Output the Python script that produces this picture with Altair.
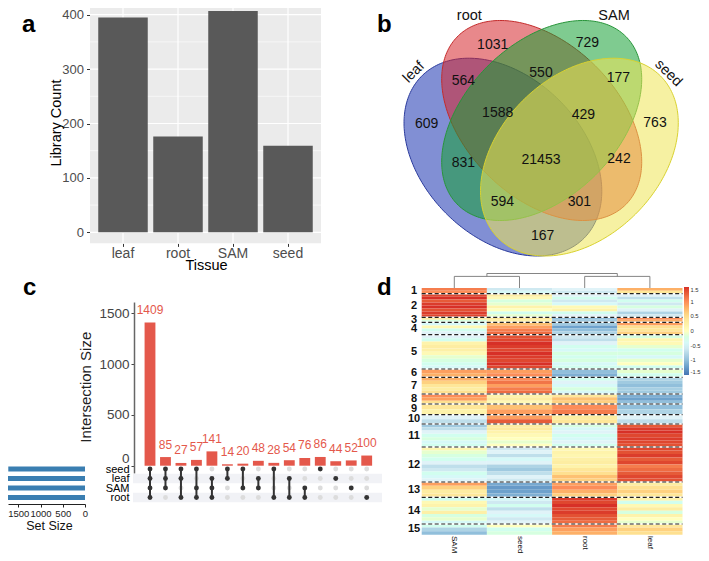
import numpy as np
import pandas as pd
import altair as alt

W, H = 693, 545
M = 8
FONT = "Liberation Sans"


def px(v):
    return v - M


def py(v):
    return v - M


# ---------------- panel a : library counts ----------------
tissues = ["leaf", "root", "SAM", "seed"]
library_counts = [395, 176, 407, 159]
a_major = [0, 100, 200, 300, 400]
a_minor = [50, 150, 250, 350]

# ---------------- panel b : Venn diagram ----------------
venn_sets = ["leaf", "root", "SAM", "seed"]
ell_cx = [111.9, 150.7, 150.7, 188.4]
ell_cy = [112.9, 149.5, 149.5, 112.9]
ell_a = [114.7, 118.9, 118.9, 114.7]
ell_b = [80.0, 76.6, 76.6, 80.0]
ell_angle = [-45, -45, 45, 45]
venn_fill = ["#1A33B0", "#D6272C", "#16A034", "#EFE655"]
venn_edge = ["#2A3A9C", "#C42B2B", "#28953A", "#D9D230"]
venn_counts = [609, 1031, 729, 763, 564, 550, 177, 1588, 429, 831, 21453, 242, 594, 301, 167]
venn_cnt_x = [35.7, 101.7, 196.3, 264.0, 72.3, 150.0, 227.3, 106.7, 192.3, 72.3, 150.0, 228.0, 111.3, 188.3, 151.7]
venn_cnt_y = [146.0, 225.0, 226.7, 146.7, 189.0, 197.3, 191.7, 156.7, 155.0, 107.3, 110.0, 110.7, 68.3, 68.3, 34.0]
venn_lab_x = [23.0, 78.3, 223.0, 277.3]
venn_lab_y = [197.7, 250.0, 250.0, 196.7]
venn_lab_angle = [315, 0, 0, 45]
venn_lab_base = ["middle", "alphabetic", "alphabetic", "middle"]

# ---------------- panel c : UpSet ----------------
upset_sets = ["seed", "leaf", "SAM", "root"]
set_sizes = [1726, 1822, 1888, 1892]
inter_sizes = [1409, 85, 27, 57, 141, 14, 20, 48, 28, 54, 76, 86, 44, 52, 100]
inter_members = [
    ["seed", "leaf", "SAM", "root"],
    ["seed", "leaf", "SAM"],
    ["seed", "leaf", "root"],
    ["seed", "SAM", "root"],
    ["leaf", "SAM", "root"],
    ["seed", "leaf"],
    ["seed", "SAM"],
    ["leaf", "SAM"],
    ["seed", "root"],
    ["leaf", "root"],
    ["SAM", "root"],
    ["seed"],
    ["leaf"],
    ["SAM"],
    ["root"],
]

# ---------------- panel d : heatmap ----------------
heat_columns = ["SAM", "seed", "root", "leaf"]
cluster_sizes = [57, 236, 50, 124, 343, 83, 167, 100, 107, 93, 230, 350, 153, 267, 107]
heat_SAM = [
    [1.1, 1.0],
    [1.4, 1.5, 1.3, 1.45, 1.5, 1.35, 1.45, 1.4],
    [0.3, -0.2],
    [-0.4, 0.1, -0.3, -0.5],
    [-0.5, -0.3, 0.2, 0.3, 0.25, 0.1, -0.1, -0.2, -0.3, -0.4],
    [0.9, 0.8],
    [0.8, 0.6, 0.4, 0.3, 0.5],
    [1.0, 0.9, 0.5],
    [0.4, 0.2],
    [-0.5, -0.7],
    [-0.9, -0.7, -0.5, -0.3, -0.2, -0.4, -0.3],
    [0.15, -0.1, -0.2, -0.3, -0.5, -0.7, -0.6, -0.3, -0.4, -0.5],
    [0.9, 0.6, 0.3, 0.4],
    [-0.3, 0.1, 0.2, -0.1, 0.25, -0.2, -0.1, -0.4],
    [-0.3, -0.8, -1.0],
]
heat_seed = [
    [-0.6, -0.4],
    [0.3, 0.1, -0.2, -0.1, 0.2, 0.0, -0.3, -0.1],
    [0.4, 0.2],
    [0.7, 0.9, 1.1, 1.2],
    [1.35, 1.4, 1.5, 1.45, 1.4, 1.5, 1.45, 1.4, 1.5, 1.4],
    [0.9, 1.0],
    [1.0, 1.15, 0.9, 1.1, 1.2],
    [0.2, 0.3, 0.1],
    [0.7, 0.9],
    [0.9, 1.3],
    [0.3, 0.35, 0.2, 0.1, 0.0, -0.1, 0.0],
    [-0.6, -0.5, -0.7, -0.4, -0.5, -0.8, -0.9, -0.7, -0.5, -0.6],
    [-1.15, -1.25, -1.2, -1.1],
    [-0.4, -0.6, -0.3, -0.7, -0.5, -0.4, -0.6, -0.5],
    [0.0, -0.3, -0.2],
]
heat_root = [
    [-0.5, -0.6],
    [-0.5, -0.3, -0.6, -0.4, 0.1, 0.2, -0.3, -0.5],
    [-1.0, -0.9],
    [-0.9, -1.2, -1.0, -0.8],
    [-0.6, -0.7, -0.5, -0.3, -0.4, -0.2, -0.3, -0.2, -0.4, -0.3],
    [-1.0, -1.1],
    [-0.3, -0.5, -0.4, -0.2, -0.4],
    [0.4, 0.7, 0.6],
    [1.0, 1.1],
    [0.3, 0.4],
    [-0.2, -0.4, -0.5, -0.3, -0.4, -0.5, -0.3],
    [0.1, 0.2, 0.15, 0.25, 0.3, 0.2, 0.4, 0.5, 0.7, 0.6],
    [0.9, 1.0, 0.8, 0.6],
    [1.45, 1.4, 1.5, 1.4, 1.45, 1.35, 1.3, 1.2],
    [1.1, 0.9, 0.8],
]
heat_leaf = [
    [0.8, 0.4],
    [-0.5, -0.7, -0.3, -0.6, -0.2, -0.5, -0.8, -0.6],
    [1.0, 0.8],
    [0.9, 0.5, 0.4, 0.6],
    [-0.2, 0.15, 0.1, -0.1, -0.3, -0.2, -0.4, -0.1, 0.0, -0.3],
    [-0.1, -0.3],
    [-0.8, -0.9, -1.0, -0.85, -0.9],
    [-1.1, -1.2, -1.0],
    [-1.0, -0.8],
    [-0.5, -0.7],
    [1.3, 1.45, 1.5, 1.4, 1.45, 1.4, 1.35],
    [1.4, 1.35, 1.45, 1.3, 1.4, 1.1, 1.2, 1.3, 1.4, 1.35],
    [0.3, 0.5, 0.6, 0.4],
    [0.2, -0.3, 0.1, 0.3, -0.2, 0.2, 0.0, -0.1],
    [0.4, 0.6, 0.5],
]
# dendrogram segments (column index, merge height)
dend_x = [0, 1, 0, 2, 3, 2, 0.5, 2.5, 0.5]
dend_x2 = [0, 1, 1, 2, 3, 3, 0.5, 2.5, 2.5]
dend_y = [0, 0, 0.8, 0, 0, 0.8, 0.8, 0.8, 1.0]
dend_y2 = [0.8, 0.8, 0.8, 0.8, 0.8, 0.8, 1.0, 1.0, 1.0]
heat_stops = [-1.5, -1, -0.5, 0, 0.5, 1, 1.5]
heat_palette = ["#4575B4", "#91BFDB", "#E0F3F8", "#FFFFBF", "#FEE090", "#FC8D59", "#D73027"]

# ======================= panel a =======================
a_k = (232.3 - 14.7) / 400.0
a_lo, a_hi = -20.35, 427.4
a_x = alt.Scale(domain=tissues, range=[px(90), px(321)], paddingInner=0.1, paddingOuter=0.15)
a_y = alt.Scale(domain=[a_lo, a_hi], range=[py(232.3 - a_lo * a_k), py(232.3 - a_hi * a_k)],
                nice=False, zero=False)
ax_a_x = alt.Axis(orient="bottom", offset=py(243.4) - H, domain=False, tickSize=3,
                  tickColor="#333333", labelAngle=0, labelPadding=0, labelFontSize=14,
                  labelColor="#4D4D4D", title="Tissue", titleFontSize=14.5,
                  titleColor="black", titleFontWeight="normal", titleX=198, titleY=22,
                  titleBaseline="middle")
ax_a_y = alt.Axis(orient="left", offset=-px(90), values=a_major, domain=False, tickSize=3.5,
                  tickColor="#333333", labelPadding=3, labelFontSize=13,
                  labelColor="#4D4D4D", title="Library Count", titleFontSize=14.5,
                  titleColor="black", titleFontWeight="normal", titleX=-34,
                  titleY=py(122.5), titleBaseline="middle")
df_a = pd.DataFrame({"tissue": tissues, "count": library_counts, "base": 0, "lo": a_lo, "hi": a_hi})

a_bg = alt.Chart(pd.DataFrame({"lo": [a_lo], "hi": [a_hi]})).mark_rect(color="#EBEBEB").encode(
    x=alt.value(px(90)), x2=alt.value(px(321)),
    y=alt.Y("lo:Q", scale=a_y, axis=ax_a_y), y2="hi:Q")
a_gmin = alt.Chart(pd.DataFrame({"v": a_minor})).mark_rule(color="white", strokeWidth=0.6).encode(
    x=alt.value(px(90)), x2=alt.value(px(321)), y=alt.Y("v:Q", scale=a_y, axis=ax_a_y))
a_gmaj = alt.Chart(pd.DataFrame({"v": a_major})).mark_rule(color="white", strokeWidth=1.2).encode(
    x=alt.value(px(90)), x2=alt.value(px(321)), y=alt.Y("v:Q", scale=a_y, axis=ax_a_y))
a_gv = alt.Chart(df_a).mark_rule(color="white", strokeWidth=1.2).encode(
    x=alt.X("tissue:N", scale=a_x, sort=tissues, axis=ax_a_x),
    y=alt.Y("lo:Q", scale=a_y, axis=ax_a_y), y2="hi:Q")
a_bars = alt.Chart(df_a).mark_bar(color="#595959").encode(
    x=alt.X("tissue:N", scale=a_x, sort=tissues, axis=ax_a_x),
    y=alt.Y("count:Q", scale=a_y, axis=ax_a_y),
    y2="base:Q")
panel_a = alt.layer(a_bg, a_gmin, a_gmaj, a_gv, a_bars)

# ======================= panel b =======================
v_x = alt.Scale(domain=[0, 300], range=[px(391), px(691)], nice=False, zero=False)
v_y = alt.Scale(domain=[0, 250], range=[py(270), py(20)], nice=False, zero=False)


def ellipse_band(cx, cy, a, b, ang, n=260):
    t = np.radians(ang)
    c, s = np.cos(t), np.sin(t)
    A = s * s / a ** 2 + c * c / b ** 2
    r = np.sqrt(a * a * c * c + b * b * s * s)
    X = np.linspace(-r, r, n)
    B = 2 * X * s * c * (1 / a ** 2 - 1 / b ** 2)
    C = X * X * (c * c / a ** 2 + s * s / b ** 2) - 1
    disc = np.clip(B * B - 4 * A * C, 0, None)
    lo = (-B - np.sqrt(disc)) / (2 * A)
    hi = (-B + np.sqrt(disc)) / (2 * A)
    return pd.DataFrame({"x": cx + X, "lo": cy + lo, "hi": cy + hi})


def ellipse_outline(cx, cy, a, b, ang, n=240):
    t = np.radians(ang)
    u = np.linspace(0, 2 * np.pi, n)
    x = cx + a * np.cos(u) * np.cos(t) - b * np.sin(u) * np.sin(t)
    y = cy + a * np.cos(u) * np.sin(t) + b * np.sin(u) * np.cos(t)
    return pd.DataFrame({"x": x, "y": y, "k": np.arange(n)})


venn_layers = []
for i in range(4):
    band = ellipse_band(ell_cx[i], ell_cy[i], ell_a[i], ell_b[i], ell_angle[i])
    outline = ellipse_outline(ell_cx[i], ell_cy[i], ell_a[i], ell_b[i], ell_angle[i])
    venn_layers.append(
        alt.Chart(band).mark_area(color=venn_fill[i], opacity=0.55, strokeWidth=0).encode(
            x=alt.X("x:Q", scale=v_x, axis=None),
            y=alt.Y("lo:Q", scale=v_y, axis=None, stack=None), y2="hi:Q"))
    venn_layers.append(
        alt.Chart(outline).mark_line(color=venn_edge[i], strokeWidth=1).encode(
            x=alt.X("x:Q", scale=v_x, axis=None), y=alt.Y("y:Q", scale=v_y, axis=None),
            order="k:Q"))
df_cnt = pd.DataFrame({"x": venn_cnt_x, "y": venn_cnt_y, "t": [str(v) for v in venn_counts]})
venn_layers.append(
    alt.Chart(df_cnt).mark_text(font=FONT, fontSize=14, color="#111111").encode(
        x=alt.X("x:Q", scale=v_x, axis=None), y=alt.Y("y:Q", scale=v_y, axis=None), text="t:N"))
for i in range(4):
    df_vl = pd.DataFrame({"x": [venn_lab_x[i]], "y": [venn_lab_y[i]], "t": [venn_sets[i]]})
    venn_layers.append(
        alt.Chart(df_vl).mark_text(font=FONT, fontSize=14.5, color="#111111",
                                   angle=venn_lab_angle[i], baseline=venn_lab_base[i]).encode(
            x=alt.X("x:Q", scale=v_x, axis=None), y=alt.Y("y:Q", scale=v_y, axis=None),
            text="t:N"))
panel_b = alt.layer(*venn_layers)

# ======================= panel c =======================
RED = "#E4584B"
inter_ids = ["I%02d" % (i + 1) for i in range(len(inter_sizes))]
df_int = pd.DataFrame({"id": inter_ids, "size": inter_sizes, "base": 0,
                       "t": [str(v) for v in inter_sizes]})
u_x = alt.Scale(domain=inter_ids, range=[px(142.26), px(374.44)], paddingInner=0.3, paddingOuter=0.15)
u_k = (465.7 - 313.3) / 1500.0
u_lo, u_hi = -72, 1611
u_y = alt.Scale(domain=[u_lo, u_hi], range=[py(465.7 - u_lo * u_k), py(465.7 - u_hi * u_k)],
                nice=False, zero=False)
ax_u_y = alt.Axis(orient="left", offset=-px(134), values=[0, 500, 1000, 1500], format="d",
                  domainColor="#666666", domainWidth=1.5, tickSize=3, tickColor="#444444",
                  labelFontSize=13.5, labelColor="#444444", labelPadding=2,
                  labelBaseline={"condition": {"test": "datum.value === 0", "value": "bottom"},
                                 "value": "middle"},
                  title="Intersection Size", titleFontSize=15, titleColor="#222222",
                  titleFontWeight="normal", titleX=-49, titleY=py(386.7),
                  titleBaseline="middle")
c_bars = alt.Chart(df_int).mark_bar(color=RED).encode(
    x=alt.X("id:N", scale=u_x, sort=inter_ids, axis=None),
    y=alt.Y("size:Q", scale=u_y, axis=ax_u_y),
    y2="base:Q")
c_lab = alt.Chart(df_int).mark_text(font=FONT, fontSize=12, color=RED, dy=-12.5).encode(
    x=alt.X("id:N", scale=u_x, sort=inter_ids, axis=None),
    y=alt.Y("size:Q", scale=u_y, axis=ax_u_y), text="t:N")
c_top = alt.layer(c_bars, c_lab)

row_y = alt.Scale(type="point", domain=upset_sets, range=[py(469), py(497.5)], padding=0)
ax_rows = alt.Axis(orient="left", offset=-px(130), domain=False, ticks=False,
                   labelPadding=1, labelFontSize=11, labelColor="#000000", title=None)
df_stripe = pd.DataFrame({"set": ["leaf", "root"]})
c_stripes = alt.Chart(df_stripe).mark_rect(color="#F1F2F6").encode(
    x=alt.value(px(133)), x2=alt.value(px(382)),
    y=alt.Y("set:N", scale=alt.Scale(domain=upset_sets, range=[py(464.25), py(502.25)],
                                     paddingInner=0, paddingOuter=0), axis=None))
dots = []
lines = []
for iid, mem in zip(inter_ids, inter_members):
    for s in upset_sets:
        dots.append({"id": iid, "set": s, "on": s in mem})
    if len(mem) > 1:
        idx = sorted(upset_sets.index(s) for s in mem)
        lines.append({"id": iid, "set": upset_sets[idx[0]], "bot": upset_sets[idx[-1]]})
df_dots = pd.DataFrame(dots)
df_lines = pd.DataFrame(lines)
c_off = alt.Chart(df_dots[~df_dots["on"]]).mark_circle(size=24, opacity=1, color="#DCDCDC").encode(
    x=alt.X("id:N", scale=u_x, sort=inter_ids, axis=None),
    y=alt.Y("set:N", scale=row_y, axis=ax_rows))
c_lines = alt.Chart(df_lines).mark_rule(color="#333333", strokeWidth=2).encode(
    x=alt.X("id:N", scale=u_x, sort=inter_ids, axis=None),
    y=alt.Y("set:N", scale=row_y, axis=ax_rows),
    y2=alt.Y2("bot"))
c_on = alt.Chart(df_dots[df_dots["on"]]).mark_circle(size=24, opacity=1, color="#333333").encode(
    x=alt.X("id:N", scale=u_x, sort=inter_ids, axis=None),
    y=alt.Y("set:N", scale=row_y, axis=ax_rows))
c_matrix = alt.layer(c_off, c_lines, c_on)
panel_c = alt.layer(c_top, c_stripes, c_matrix).resolve_scale(y="independent")

ss_k = 22.5
df_ss = pd.DataFrame({"set": upset_sets, "size": set_sizes, "base": 0})
panel_c_sets = alt.Chart(df_ss).mark_bar(color="#3A7EB1").encode(
    y=alt.Y("set:N", scale=alt.Scale(domain=upset_sets, range=[py(464.25), py(502.25)],
                                     paddingInner=0.45, paddingOuter=0.225), axis=None),
    x=alt.X("size:Q", scale=alt.Scale(domain=[0, (85 - M) * ss_k], range=[px(85), px(8)],
                                      nice=False, zero=False),
            axis=alt.Axis(orient="bottom", offset=py(504) - H, values=[0, 500, 1000, 1500],
                          format="d", domainColor="#222222", tickColor="#222222", tickSize=3,
                          labelFontSize=9.5, labelColor="#222222", labelPadding=1,
                          labelFlush=False, labelOverlap=False, title="Set Size",
                          titleFontSize=12.5, titleColor="#111111", titleFontWeight="normal",
                          titleX=41, titleY=21, titleBaseline="middle")),
    x2="base:Q")

# ======================= panel d =======================
HX0, HX1 = 421.7, 682.5
col_vals = {"SAM": heat_SAM, "seed": heat_seed, "root": heat_root, "leaf": heat_leaf}
cells = []
mids = []
bounds = []
start = 0
for k, size in enumerate(cluster_sizes):
    for col in heat_columns:
        vals = col_vals[col][k]
        n = len(vals)
        for j, v in enumerate(vals):
            cells.append({"col": col, "y0": start + size * j / n, "y1": start + size * (j + 1) / n,
                          "v": v})
    mids.append({"m": start + size / 2.0, "t": str(k + 1)})
    start += size
    if k < len(cluster_sizes) - 1:
        bounds.append({"b": start})
total = start
df_cells = pd.DataFrame(cells)
h_y = alt.Scale(domain=[0, total], range=[py(288), py(534.7)], nice=False, zero=False)
h_x = alt.Scale(domain=heat_columns, range=[px(HX0), px(HX1)], paddingInner=0, paddingOuter=0)
h_col = alt.Scale(domain=heat_stops, range=heat_palette, clamp=True)
d_rect = alt.Chart(df_cells).mark_rect().encode(
    x=alt.X("col:N", scale=h_x, sort=heat_columns,
            axis=alt.Axis(orient="bottom", offset=py(535) - H, domain=False, ticks=False,
                          labelAngle=90, labelAlign="left", labelBaseline="middle",
                          labelPadding=0.5, labelFontSize=8, labelColor="#111111", title=None)),
    y=alt.Y("y0:Q", scale=h_y, axis=None), y2="y1:Q",
    color=alt.Color("v:Q", scale=h_col,
                    legend=alt.Legend(orient="none", legendX=px(684), legendY=py(287),
                                      direction="vertical", gradientLength=88,
                                      gradientThickness=5, gradientStrokeWidth=0, title=None,
                                      values=heat_stops, labelExpr="'' + datum.value",
                                      labelFontSize=5.8, labelColor="#333333", labelOffset=1.5,
                                      padding=0)))
df_b = pd.DataFrame(bounds)
d_white = alt.Chart(df_b).mark_rule(color="white", strokeWidth=1.6).encode(
    x=alt.value(px(HX0)), x2=alt.value(px(HX1)), y=alt.Y("b:Q", scale=h_y, axis=None))
d_dash = alt.Chart(df_b).mark_rule(color="#222222", strokeWidth=1.2, strokeDash=[4, 2.5]).encode(
    x=alt.value(px(HX0)), x2=alt.value(px(HX1)), y=alt.Y("b:Q", scale=h_y, axis=None))
d_lab = alt.Chart(pd.DataFrame(mids)).mark_text(font=FONT, fontSize=11, fontWeight="bold",
                                                color="#111111").encode(
    x=alt.value(px(414)), y=alt.Y("m:Q", scale=h_y, axis=None), text="t:N")
panel_d = alt.layer(d_rect, d_white, d_dash, d_lab)

df_dend = pd.DataFrame({"x": dend_x, "x2": dend_x2, "y": dend_y, "y2": dend_y2})
panel_dend = alt.Chart(df_dend).mark_rule(color="#777777", strokeWidth=0.9).encode(
    x=alt.X("x:Q", scale=alt.Scale(domain=[-0.5, 3.5], range=[px(HX0), px(HX1)], nice=False,
                                   zero=False), axis=None),
    x2="x2:Q",
    y=alt.Y("y:Q", scale=alt.Scale(domain=[0, 1], range=[py(288), py(273.5)], nice=False,
                                   zero=False), axis=None),
    y2="y2:Q")

# ======================= panel letters =======================
letters = []
for t, lx, ly in [("a", 22, 32), ("b", 377, 31.5), ("c", 23, 295), ("d", 377, 295)]:
    letters.append(
        alt.Chart(pd.DataFrame({"t": [t]})).mark_text(
            font=FONT, fontSize=24, fontWeight="bold", color="black", align="left",
            baseline="alphabetic").encode(text="t:N", x=alt.value(px(lx)), y=alt.value(py(ly))))

chart = alt.layer(
    panel_a, panel_b, panel_c_sets, panel_c, panel_d, panel_dend, *letters
).resolve_scale(
    x="independent", y="independent", color="independent"
).properties(
    width=W, height=H, autosize=alt.AutoSizeParams(type="none"), padding=0
).configure_view(
    strokeWidth=0
).configure_axis(
    grid=False, labelFont=FONT, titleFont=FONT
).configure_legend(
    labelFont=FONT
)

chart.save("out.html", embed_options={"renderer": "svg", "actions": False})
